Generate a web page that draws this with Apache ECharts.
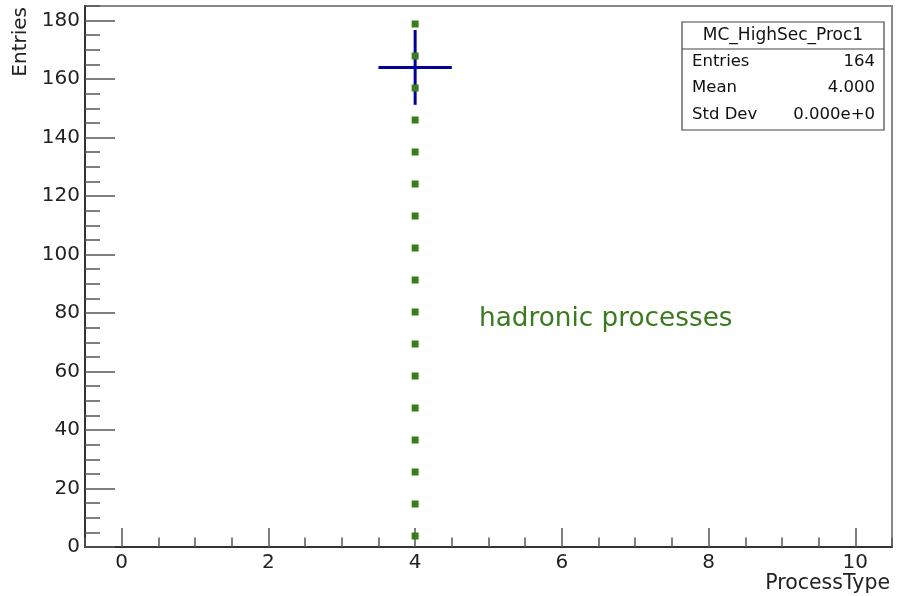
<!DOCTYPE html>
<html><head><meta charset="utf-8">
<script src="https://cdn.jsdelivr.net/npm/echarts@6/dist/echarts.min.js"></script>
<style>html,body{margin:0;padding:0;background:#fff}#c{width:897px;height:596px}</style>
</head><body><div id="c"></div>
<script>
// ---- data ----
const binCenters = [4];
const binCounts = [164];
const binErrors = [12.8];
const binHalfWidths = [0.5];
const xMajorTicks = [0, 2, 4, 6, 8, 10];
const yMajorTicks = [0, 20, 40, 60, 80, 100, 120, 140, 160, 180];
const markerLineX = [4, 4];
const markerLineY = [180, 0];
const histName = 'MC_HighSec_Proc1';
const statsLabels = ['Entries', 'Mean', 'Std Dev'];
const statsValues = ['164', '4.000', '0.000e+0'];
const annotation = 'hadronic processes';
const xTitle = 'ProcessType';
const yTitle = 'Entries';

const FONT = 'DejaVu Sans';
const GREEN = '#3a7b20';
const BLUE = '#000099';

const chart = echarts.init(document.getElementById('c'), null, {renderer: 'canvas'});

const histData = binCenters.map((x, i) => [x, binCounts[i], binErrors[i], binHalfWidths[i]]);
const lineData = markerLineX.map((x, i) => [x, markerLineY[i]]);

const statsGraphics = [
  {type: 'rect', shape: {x: 682, y: 22, width: 202, height: 108},
   style: {fill: '#fff', stroke: '#444', lineWidth: 1.2}, z: 100},
  {type: 'line', shape: {x1: 682, y1: 49, x2: 884, y2: 49},
   style: {stroke: '#444', lineWidth: 1.2}, z: 101},
  {type: 'text', x: 783, y: 35.5, z: 102,
   style: {text: histName, font: '17px "' + FONT + '"', fill: '#111', align: 'center', verticalAlign: 'middle'}}
];
const rowY = [62, 88, 115];
statsLabels.forEach((l, i) => {
  statsGraphics.push({type: 'text', x: 692, y: rowY[i], z: 102,
    style: {text: l, font: '16.5px "' + FONT + '"', fill: '#111', align: 'left', verticalAlign: 'middle'}});
  statsGraphics.push({type: 'text', x: 875, y: rowY[i], z: 102,
    style: {text: statsValues[i], font: '16.5px "' + FONT + '"', fill: '#111', align: 'right', verticalAlign: 'middle'}});
});

const option = {
  animation: false,
  backgroundColor: '#fff',
  grid: {left: 85, right: 5, top: 6, bottom: 49, show: true, borderColor: '#888', borderWidth: 2, backgroundColor: 'transparent'},
  xAxis: [
    {type: 'value', min: -0.5, max: 10.5, position: 'bottom',
     axisLine: {show: true, onZero: false, lineStyle: {color: '#333', width: 2}},
     axisTick: {show: true, inside: true, length: 19, customValues: xMajorTicks, lineStyle: {color: '#555', width: 1.5}},
     axisLabel: {show: true, customValues: xMajorTicks, margin: 6, fontFamily: FONT, fontSize: 20, color: '#222'},
     splitLine: {show: false}},
    {type: 'value', min: -0.5, max: 10.5, interval: 0.5, position: 'bottom',
     axisLine: {show: false, onZero: false},
     axisTick: {show: true, inside: true, length: 9.5, lineStyle: {color: '#555', width: 1.5}},
     axisLabel: {show: false}, splitLine: {show: false}}
  ],
  yAxis: [
    {type: 'value', min: 0, max: 185, position: 'left',
     axisLine: {show: true, onZero: false, lineStyle: {color: '#333', width: 2}},
     axisTick: {show: true, inside: true, length: 30, customValues: yMajorTicks, lineStyle: {color: '#555', width: 1.5}},
     axisLabel: {show: true, customValues: yMajorTicks, margin: 5, fontFamily: FONT, fontSize: 20, color: '#222'},
     splitLine: {show: false}},
    {type: 'value', min: 0, max: 185, interval: 5, position: 'left',
     axisLine: {show: false, onZero: false},
     axisTick: {show: true, inside: true, length: 15, lineStyle: {color: '#555', width: 1.5}},
     axisLabel: {show: false}, splitLine: {show: false}}
  ],
  series: [
    {type: 'custom', xAxisIndex: 0, yAxisIndex: 0, data: histData, z: 3, silent: true,
     renderItem: function (params, api) {
       const x = api.value(0), y = api.value(1), e = api.value(2), w = api.value(3);
       const pL = api.coord([x - w, y]), pR = api.coord([x + w, y]);
       const pT = api.coord([x, y + e]), pB = api.coord([x, y - e]);
       const style = {stroke: BLUE, lineWidth: 3};
       return {type: 'group', children: [
         {type: 'line', shape: {x1: pL[0], y1: pL[1], x2: pR[0], y2: pR[1]}, style: style},
         {type: 'line', shape: {x1: pT[0], y1: pT[1], x2: pB[0], y2: pB[1]}, style: style}
       ]};
     }},
    {type: 'line', xAxisIndex: 0, yAxisIndex: 0, data: lineData, z: 4, silent: true,
     symbol: 'none', showSymbol: false,
     lineStyle: {color: GREEN, width: 7, type: [7, 25], cap: 'butt'}}
  ],
  graphic: [
    {type: 'text', x: 479, y: 319, z: 50,
     style: {text: annotation, font: '26.3px "' + FONT + '"', fill: GREEN, align: 'left', verticalAlign: 'middle'}},
    {type: 'text', x: 890, y: 584, z: 50,
     style: {text: xTitle, font: '20.5px "' + FONT + '"', fill: '#222', align: 'right', verticalAlign: 'middle'}},
    {type: 'text', x: 21, y: 7, rotation: Math.PI / 2, z: 50,
     style: {text: yTitle, font: '20px "' + FONT + '"', fill: '#222', align: 'right', verticalAlign: 'middle'}}
  ].concat(statsGraphics)
};
chart.setOption(option);
</script></body></html>
